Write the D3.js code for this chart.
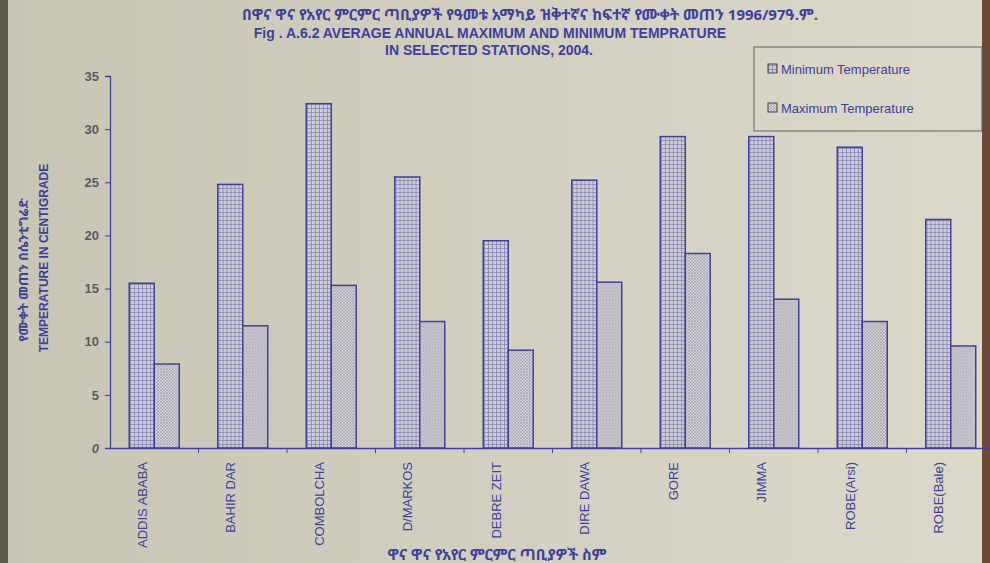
<!DOCTYPE html>
<html>
<head>
<meta charset="utf-8">
<script src="https://cdn.jsdelivr.net/npm/d3@7"></script>
<style>
  body { margin: 0; background: #d3d0c2; }
  svg text { font-family: "Liberation Sans", Arial, sans-serif; }
</style>
</head>
<body>
<div id="chart"></div>
<script>
// Stations and the two series.
const stations = ['ADDIS ABABA', 'BAHIR DAR', 'COMBOLCHA', 'D/MARKOS', 'DEBRE ZEIT',
    'DIRE DAWA', 'GORE', 'JIMMA', 'ROBE(Arsi)', 'ROBE(Bale)'];
const minTemp = [15.5, 24.8, 32.4, 25.5, 19.5, 25.2, 29.3, 29.3, 28.3, 21.5];
const maxTemp = [7.9, 11.5, 15.3, 11.9, 9.2, 15.6, 18.3, 14.0, 11.9, 9.6];
const seriesNames = ['Minimum Temperature', 'Maximum Temperature'];
const yTicks = [0, 5, 10, 15, 20, 25, 30, 35];

const width = 990, height = 563;
const plotLeft = 110, plotRight = 995, plotTop = 76, plotBottom = 448;
const ink = '#40409a';

const svg = d3.select('#chart').append('svg')
    .attr('width', width)
    .attr('height', height);

// Paper background (photo is darker on the left).
const defs = svg.append('defs');
const bg = defs.append('linearGradient').attr('id', 'paper');
bg.append('stop').attr('offset', '0%').attr('stop-color', '#c9c5b5');
bg.append('stop').attr('offset', '100%').attr('stop-color', '#dcd9cb');
svg.append('rect').attr('width', width).attr('height', height).attr('fill', 'url(#paper)');
svg.append('rect').attr('x', 0).attr('width', 8).attr('height', height).attr('fill', '#5e584c');
svg.append('rect').attr('x', 982).attr('width', 8).attr('height', height).attr('fill', '#6b4a33');

// Hatch patterns for the two series.
const grid = defs.append('pattern').attr('id', 'gridFill')
    .attr('width', 4).attr('height', 4).attr('patternUnits', 'userSpaceOnUse');
grid.append('rect').attr('width', 4).attr('height', 4).attr('fill', '#cfccd0');
grid.append('path').attr('d', 'M0,0.5H4M0.5,0V4').attr('stroke', '#8584b4').attr('stroke-width', 0.8);

const dots = defs.append('pattern').attr('id', 'dotFill')
    .attr('width', 3).attr('height', 3).attr('patternUnits', 'userSpaceOnUse');
dots.append('rect').attr('width', 3).attr('height', 3).attr('fill', '#d4d1cd');
dots.append('path').attr('d', 'M0,0L3,3M3,0L0,3').attr('stroke', '#9c9bbb').attr('stroke-width', 0.6);

const fills = ['url(#gridFill)', 'url(#dotFill)'];

// Scales.
const x = d3.scaleBand().domain(stations).range([plotLeft, plotRight]).paddingInner(0).paddingOuter(0);
const xInner = d3.scaleBand().domain([0, 1]).range([0, x.bandwidth()]).paddingInner(0).paddingOuter(0.77);
const y = d3.scaleLinear().domain([0, 35]).range([plotBottom, plotTop]);

// Bars.
const groups = svg.append('g').selectAll('g')
    .data(stations)
    .enter()
    .append('g')
    .attr('transform', function (d) {return 'translate(' + x(d) + ',0)';});
groups.selectAll('rect')
    .data(function (d, i) {return [minTemp[i], maxTemp[i]];})
    .enter()
    .append('rect')
    .attr('x', function (d, j) {return xInner(j);})
    .attr('y', function (d) {return y(d);})
    .attr('width', xInner.bandwidth())
    .attr('height', function (d) {return y(0) - y(d);})
    .attr('fill', function (d, j) {return fills[j];})
    .attr('stroke', ink)
    .attr('stroke-width', 1.5);

// Axes.
const yAxis = svg.append('g')
    .attr('transform', 'translate(' + plotLeft + ',0)')
    .call(d3.axisLeft(y).tickValues(yTicks).tickSize(5).tickPadding(6));
const xAxis = svg.append('g')
    .attr('transform', 'translate(0,' + plotBottom + ')')
    .call(d3.axisBottom(x).tickSize(0).tickFormat(''));
svg.append('g')
    .selectAll('line')
    .data(stations.slice(1))
    .enter()
    .append('line')
    .attr('x1', function (d) {return x(d);})
    .attr('x2', function (d) {return x(d);})
    .attr('y1', plotBottom)
    .attr('y2', plotBottom + 5)
    .attr('stroke', ink);
svg.selectAll('.domain').attr('stroke', ink).attr('stroke-width', 1.3);
yAxis.selectAll('.tick line').attr('stroke', ink);
yAxis.selectAll('.tick text')
    .attr('fill', '#5a5a66')
    .attr('font-size', 13)
    .attr('font-weight', 'bold')
    .style('font-style', function (d) {return d === 0 ? 'italic' : 'normal';});

// Station labels, rotated.
svg.append('g')
    .selectAll('text')
    .data(stations)
    .enter()
    .append('text')
    .attr('transform', function (d) {
        return 'translate(' + (x(d) + x.bandwidth() / 2 - 12) + ',' + (plotBottom + 14) + ')rotate(-90)';
    })
    .attr('text-anchor', 'end')
    .attr('dy', '0.35em')
    .attr('fill', ink)
    .attr('font-size', 13)
    .text(function (d) {return d;});

// Titles.
const ethiopic = '"Noto Sans Ethiopic", "Abyssinica SIL", "DejaVu Serif", serif';
svg.append('text')
    .attr('x', 530).attr('y', 20)
    .attr('text-anchor', 'middle')
    .attr('fill', ink)
    .attr('font-size', 15)
    .attr('font-weight', 'bold')
    .style('font-family', ethiopic)
    .text('በዋና ዋና የአየር ምርምር ጣቢያዎች የዓመቱ አማካይ ዝቅተኛና ከፍተኛ የሙቀት መጠን 1996/97ዓ.ም.');
svg.append('text')
    .attr('x', 490).attr('y', 38)
    .attr('text-anchor', 'middle')
    .attr('fill', ink)
    .attr('font-size', 14)
    .attr('font-weight', 'bold')
    .text('Fig . A.6.2  AVERAGE ANNUAL MAXIMUM AND MINIMUM TEMPRATURE');
svg.append('text')
    .attr('x', 489).attr('y', 55)
    .attr('text-anchor', 'middle')
    .attr('fill', ink)
    .attr('font-size', 14)
    .attr('font-weight', 'bold')
    .text('IN SELECTED STATIONS, 2004.');

// Y axis titles.
svg.append('text')
    .attr('transform', 'translate(28,270)rotate(-90)')
    .attr('text-anchor', 'middle')
    .attr('fill', ink)
    .attr('font-size', 13)
    .attr('font-weight', 'bold')
    .style('font-family', ethiopic)
    .text('የሙቀት መጠን በሴንቲግሬድ');
svg.append('text')
    .attr('transform', 'translate(48,258)rotate(-90)')
    .attr('text-anchor', 'middle')
    .attr('fill', ink)
    .attr('font-size', 12)
    .attr('font-weight', 'bold')
    .text('TEMPERATURE IN CENTIGRADE');

// X axis title.
svg.append('text')
    .attr('x', 497).attr('y', 560)
    .attr('text-anchor', 'middle')
    .attr('fill', ink)
    .attr('font-size', 15)
    .attr('font-weight', 'bold')
    .style('font-family', ethiopic)
    .text('ዋና ዋና የአየር ምርምር ጣቢያዎች ስም');

// Legend.
const legend = svg.append('g').attr('transform', 'translate(754,47)');
legend.append('rect')
    .attr('width', 228).attr('height', 84)
    .attr('fill', 'none')
    .attr('stroke', '#5f5f6e')
    .attr('stroke-width', 1);
const items = legend.selectAll('g')
    .data(seriesNames)
    .enter()
    .append('g')
    .attr('transform', function (d, i) {return 'translate(14,' + (22 + i * 39) + ')';});
items.append('rect')
    .attr('y', -5).attr('width', 9).attr('height', 9)
    .attr('fill', function (d, i) {return fills[i];})
    .attr('stroke', '#444');
items.append('text')
    .attr('x', 13).attr('dy', '0.35em')
    .attr('fill', ink)
    .attr('font-size', 13)
    .text(function (d) {return d;});
</script>
</body>
</html>
